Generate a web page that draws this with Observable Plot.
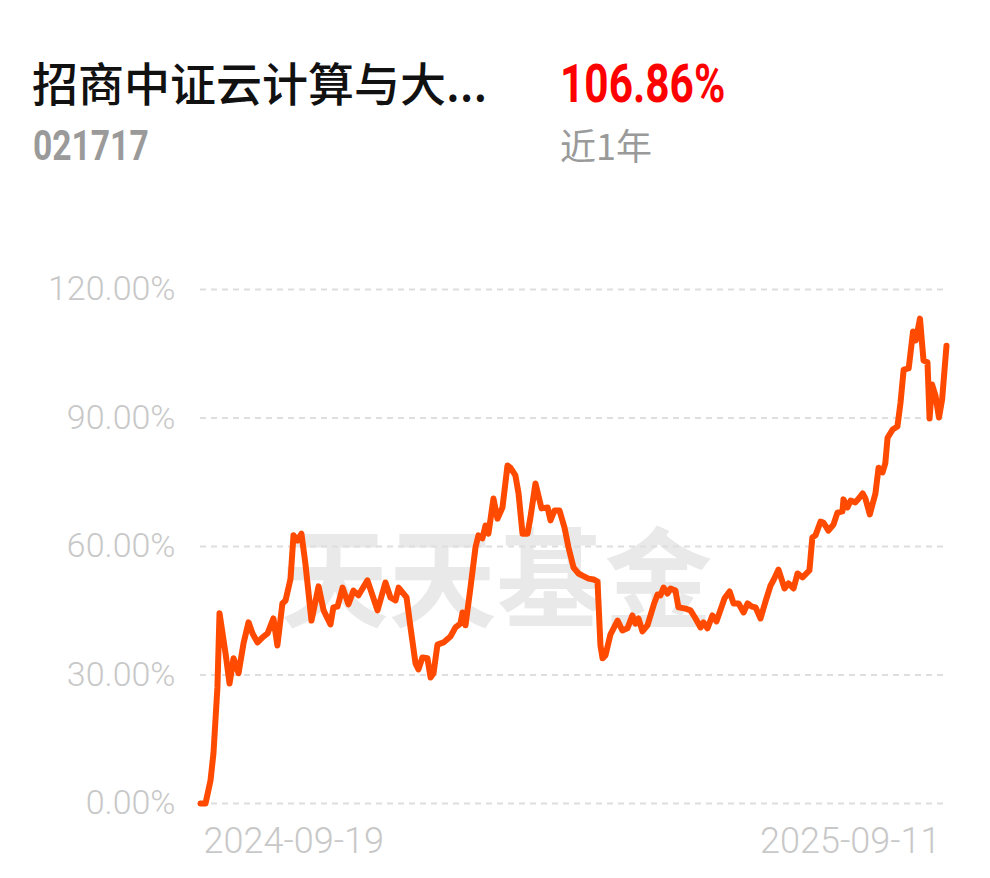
<!DOCTYPE html>
<html>
<head>
<meta charset="utf-8">
<script src="https://cdn.jsdelivr.net/npm/d3@7"></script>
<script src="https://cdn.jsdelivr.net/npm/@observablehq/plot@0.6"></script>
<style>
  html, body { margin: 0; padding: 0; background: #fff; }
  body { width: 990px; height: 878px; position: relative; overflow: hidden; }
  .abs { position: absolute; white-space: nowrap; line-height: 1; }
  #title { left: 32px; top: 58px; font-family: "Noto Sans CJK SC", sans-serif; font-weight: 500; font-size: 46px; color: #111; }
  #ret { left: 560px; top: 58px; font-family: Roboto, sans-serif; font-weight: 700; font-size: 53px; color: #ff0000; transform: scaleX(0.8); transform-origin: left center; }
  #code { left: 33px; top: 125px; font-family: Roboto, sans-serif; font-weight: 700; font-size: 42px; color: #9a9a9a; transform: scaleX(0.8); transform-origin: left center; }
  #period { left: 560px; top: 126px; font-family: "Noto Sans CJK SC", sans-serif; font-size: 36px; color: #9a9a9a; }
  #chart { position: absolute; left: 0; top: 200px; }
</style>
</head>
<body>
<div class="abs" id="title"></div>
<div class="abs" id="ret"></div>
<div class="abs" id="code"></div>
<div class="abs" id="period"></div>
<div id="chart"></div>
<script>
// ---- data ----
const fundName = "招商中证云计算与大...";
const fundCode = "021717";
const periodReturn = "106.86%";
const periodLabel = "近1年";
const watermark = "天天基金";

// days since 2024-09-19
const days = [0, 2.4, 4.8, 6.2, 8.1, 9.1, 12, 13.9, 15.8, 18.2, 20.6, 23, 24.9, 27.3, 29.7, 32.1, 34.9, 36.8, 39.2, 40.7,
  43.1, 44.5, 46.4, 48.3, 50.2, 53.1, 56.5, 58.9, 62.2, 63.6, 65.6, 68, 70.8, 73.2, 75.6, 79.9, 84.7, 88.5, 90.9, 93.3,
  94.8, 98.6, 100.5, 102.9, 104.3, 106.2, 108.6, 110.1, 111.5, 113.4, 116.3, 119.6, 122, 124.4, 125.4, 126.8, 129.2, 131.6, 133, 134.9,
  136.4, 137.8, 140.2, 142.1, 144.5, 146.9, 148.3, 150.7, 152.2, 154.1, 156.5, 157.9, 160.3, 163.2, 166.1, 167.5, 169.4, 171.8, 174.2, 176.1,
  178.5, 180.9, 182.8, 185.7, 188.1, 190, 191.4, 192.4, 193.8, 196.2, 199.6, 201.9, 204.3, 206.7, 208.1, 209.6, 211.5, 213.9, 217.1, 218.7,
  220.1, 221.6, 223.5, 224.9, 227.3, 228.7, 232.1, 234.5, 236.9, 239.3, 240.7, 242.6, 245, 246.9, 250.8, 253.2, 255.1, 257.5, 259.9, 261.8,
  263.7, 265.6, 268, 270.4, 272.8, 274.2, 276.6, 279.5, 281.4, 283.8, 285.7, 288.1, 291.4, 292.8, 294.3, 296.7, 298.1, 300.5, 302.9, 304.8,
  307.2, 307.7, 309.6, 311.1, 313.4, 315, 316.9, 318.2, 320.3, 323, 324.5, 326.4, 327.7, 328.8, 331.2, 333.5, 335, 336.5, 338.9, 341,
  342.3, 344.3, 346, 347.9, 348.9, 350.1, 351.7, 353.4, 354.9, 357];
// cumulative return, %
const returns = [0, 0, 5.4, 11.7, 27.1, 44.4, 35.0, 28.0, 33.9, 30.4, 37.4, 42.3, 39.7, 37.6, 38.8, 39.7, 43.2, 36.9, 46.7, 47.4,
  52.5, 62.6, 61.4, 63.0, 56.0, 42.7, 50.7, 45.1, 41.8, 45.8, 46.0, 50.4, 46.5, 49.7, 48.6, 52.1, 45.1, 51.6, 48.1, 47.4,
  50.4, 48.1, 41.1, 32.7, 31.3, 34.1, 33.9, 29.4, 30.4, 37.1, 37.6, 39.0, 41.1, 42.0, 44.6, 41.6, 50.4, 59.8, 62.6, 61.9,
  64.9, 63.0, 71.2, 66.5, 69.1, 78.9, 78.4, 76.6, 72.4, 63.0, 63.0, 66.8, 74.7, 68.9, 69.1, 66.1, 68.4, 68.4, 64.4, 59.8,
  55.1, 53.7, 53.2, 52.5, 52.3, 51.8, 36.9, 33.9, 34.6, 39.5, 42.7, 40.4, 40.9, 43.9, 42.0, 43.2, 40.2, 41.6, 46.7, 48.8,
  48.6, 50.4, 49.0, 50.2, 49.7, 45.8, 45.5, 45.1, 43.2, 41.1, 42.3, 40.9, 43.9, 42.5, 47.9, 49.5, 46.7, 46.7, 44.6, 46.7,
  46.0, 45.8, 43.2, 47.2, 50.9, 52.1, 54.6, 50.2, 51.4, 50.2, 53.7, 52.8, 54.4, 62.1, 62.6, 65.8, 65.6, 63.7, 65.1, 67.9,
  68.2, 71.0, 69.1, 70.7, 70.3, 71.2, 72.4, 71.2, 67.5, 72.4, 78.4, 77.3, 79.4, 85.4, 87.3, 88.0, 93.6, 101.3, 101.6, 110.2,
  108.1, 113.2, 103.4, 103.0, 89.9, 97.8, 95.3, 90.1, 94.3, 106.86];

const yTicks = [0, 30, 60, 90, 120];
const xTickDays = [0, 357];
const xTickLabels = ["2024-09-19", "2025-09-11"];

// ---- header ----
document.getElementById("title").textContent = fundName;
document.getElementById("ret").textContent = periodReturn;
document.getElementById("code").textContent = fundCode;
document.getElementById("period").textContent = periodLabel;

const series = days.map((d, i) => ({day: d, value: returns[i]}));
const xTicks = xTickDays.map((d, i) => ({day: d, label: xTickLabels[i]}));

const chart = Plot.plot({
  width: 990,
  height: 678,
  marginLeft: 200,
  marginRight: 44,
  marginTop: 89,
  marginBottom: 75,
  style: {background: "transparent", overflow: "visible"},
  x: {domain: [0, 357], axis: null},
  y: {domain: [0, 120], axis: null},
  marks: [
    Plot.text([watermark], {
      frameAnchor: "top-left", dx: 296, dy: 295, text: d => d,
      textAnchor: "middle", lineAnchor: "middle",
      fontSize: 108, fontWeight: 700, fill: "#e9e9e9",
      fontFamily: "Noto Sans CJK SC"
    }),
    Plot.gridY(yTicks, {stroke: "#dedede", strokeOpacity: 1, strokeWidth: 2, strokeDasharray: "6,5"}),
    Plot.axisY(yTicks, {
      tickSize: 0, tickPadding: 25, fontSize: 34, fontWeight: 300, fill: "#c8c8c8",
      fontFamily: "Roboto", tickFormat: d => d.toFixed(2) + "%", label: null
    }),
    Plot.text(xTicks.slice(0, 1), {
      x: "day", text: "label", frameAnchor: "bottom", dy: 38, dx: 3,
      textAnchor: "start", lineAnchor: "middle", fontSize: 36, fontWeight: 300, fill: "#c8c8c8", fontFamily: "Roboto"
    }),
    Plot.text(xTicks.slice(1), {
      x: "day", text: "label", frameAnchor: "bottom", dy: 38, dx: -6,
      textAnchor: "end", lineAnchor: "middle", fontSize: 36, fontWeight: 300, fill: "#c8c8c8", fontFamily: "Roboto"
    }),
    Plot.line(series, {
      x: "day", y: "value", stroke: "#ff4a00", strokeWidth: 6,
      strokeLinejoin: "round", strokeLinecap: "round", curve: "linear"
    })
  ]
});
document.getElementById("chart").appendChild(chart);
</script>
</body>
</html>
